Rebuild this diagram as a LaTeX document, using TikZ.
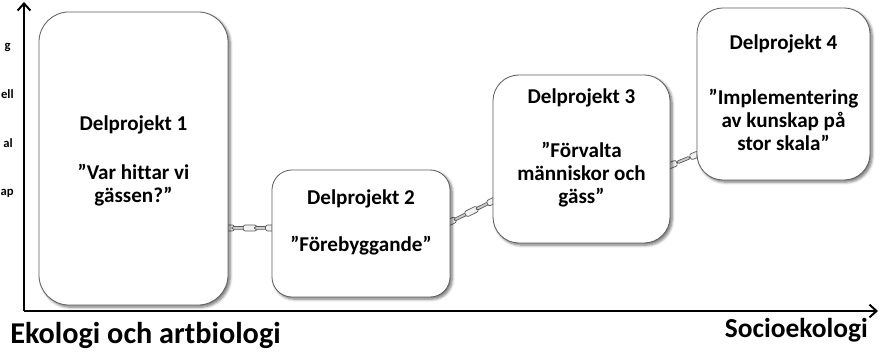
\documentclass[tikz,border=0pt]{standalone}
\usepackage{fontspec}
\setmainfont{Carlito}[Ligatures=NoCommon]
\usetikzlibrary{arrows.meta, positioning, shadows.blur}

\begin{document}
\begin{tikzpicture}[
    x=0.025cm, y=-0.025cm,
    projbox/.style={rectangle, draw=gray!75!black, line width=0.6pt, fill=white, blur shadow={shadow xshift=1.5pt, shadow yshift=-1.5pt, shadow blur steps=6, shadow opacity=55}},
    projtext/.style={anchor=north, align=center, inner sep=0pt, font=\fontsize{15}{16.4}\selectfont\bfseries},
    axis/.style={line width=1.4pt, -{Straight Barb[length=5pt, width=9pt]}},
    axislabel/.style={inner sep=0pt, font=\fontsize{21.5}{24}\selectfont\bfseries},
    cutlabel/.style={anchor=base east, inner sep=0pt, font=\fontsize{9}{11}\selectfont\bfseries},
    openlink/.style={draw=gray!70!black, fill=gray!10, line width=0.5pt, rounded corners=1.5pt, minimum width=0.34cm, minimum height=0.15cm, inner sep=0pt},
    flatlink/.style={draw=gray!70!black, fill=gray!40, line width=0.5pt, rounded corners=1pt, minimum width=0.34cm, minimum height=0.07cm, inner sep=0pt}
]
\useasboundingbox (0,0) rectangle (881,352);

% Axes
\coordinate (origin) at (24,311);
\coordinate (ytip) at (24,2);
\coordinate (xtip) at (878,311);
\draw[axis] (origin) -- (ytip);
\draw[axis] (origin) -- (xtip);

% Chains between the subprojects
\coordinate (c1s) at (222,228);
\coordinate (c1e) at (278,228);
\coordinate (c2s) at (444,225);
\coordinate (c2e) at (499,198);
\coordinate (c3s) at (664,168);
\coordinate (c3e) at (703,152);
\foreach \a/\b/\n in {c1s/c1e/5, c2s/c2e/5, c3s/c3e/3} {
  \foreach \k in {1,...,\n} {
    \pgfmathsetmacro\p{(\k-0.5)/\n}
    \ifodd\k
      \path (\a) -- (\b) node[openlink, pos=\p, sloped] {};
    \else
      \path (\a) -- (\b) node[flatlink, pos=\p, sloped] {};
    \fi
  }
}

% Subproject boxes
\node[projbox, rounded corners=0.75cm, minimum width=4.725cm, minimum height=7.325cm] (d1) at (133.5,158.5) {};
\node[projbox, rounded corners=0.5cm, minimum width=4.45cm, minimum height=3.175cm] (d2) at (361,233.5) {};
\node[projbox, rounded corners=0.65cm, minimum width=4.425cm, minimum height=4.2cm] (d3) at (581.5,159) {};
\node[projbox, rounded corners=0.65cm, minimum width=4.325cm, minimum height=4.3cm] (d4) at (783.5,94) {};

% Box texts
\node[projtext] (t1) at (133.5,115) {Delprojekt 1\\[19pt]”Var hittar vi\\[-0.5pt]gässen?”};
\node[projtext] (t2) at (361,189) {Delprojekt 2\\[17pt]”Förebyggande”};
\node[projtext] (t3) at (581.5,88) {Delprojekt 3\\[22pt]”Förvalta\\människor och\\gäss”};
\node[projtext] (t4) at (783.5,34) {Delprojekt 4\\[23pt]”Implementering\\av kunskap på\\stor skala”};

% Axis labels
\node[axislabel, anchor=base west] (xlow) at (10,344) {Ekologi och artbiologi};
\node[axislabel, anchor=base east, font=\fontsize{19.5}{22}\selectfont\bfseries] (xhigh) at (868,338) {Socioekologi};

% Cut-off labels at the left edge
\node[cutlabel] (cut1) at (11,50) {g};
\node[cutlabel] (cut2) at (14,99) {ell};
\node[cutlabel] (cut3) at (13,148) {al};
\node[cutlabel] (cut4) at (14,196) {ap};

\end{tikzpicture}
\end{document}
